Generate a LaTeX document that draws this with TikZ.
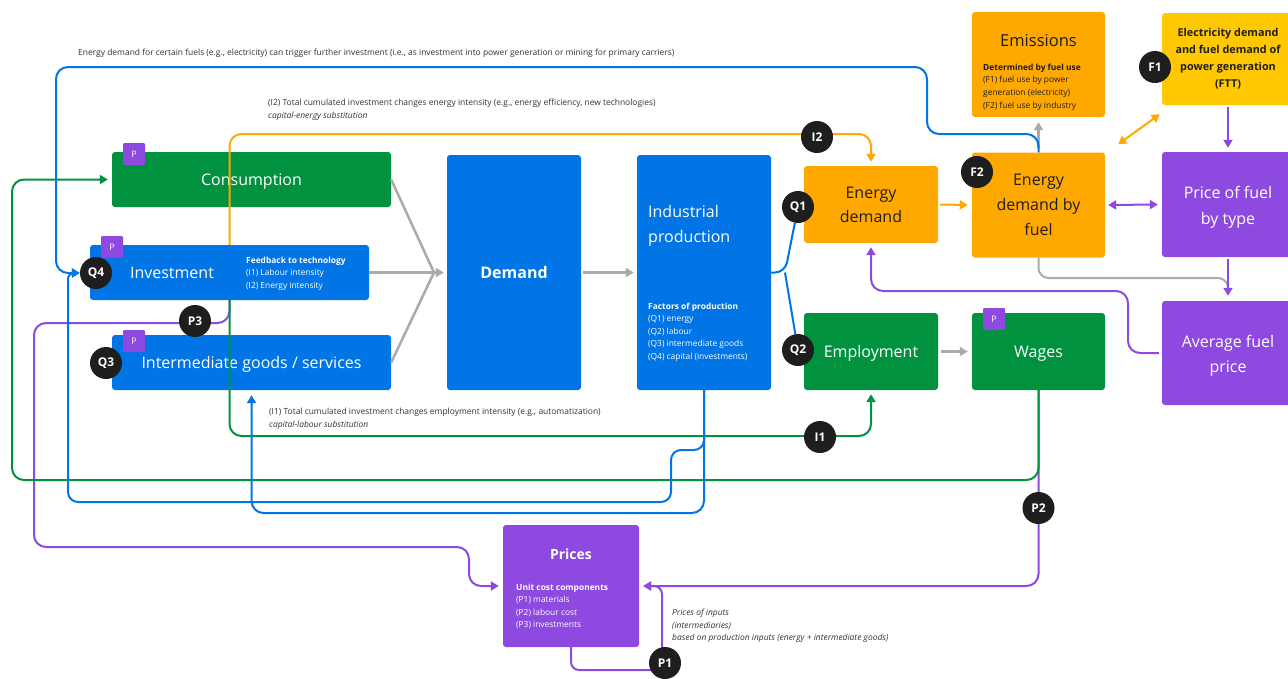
\documentclass[tikz,border=0pt]{standalone}
\usepackage{fontspec}
\setmainfont{Open Sans}
\usetikzlibrary{arrows.meta}
\definecolor{cgreen}{HTML}{00923F}
\definecolor{cblue}{HTML}{0174E6}
\definecolor{corange}{HTML}{FFA800}
\definecolor{cyellow}{HTML}{FFC800}
\definecolor{cpurple}{HTML}{8E49E0}
\definecolor{cdark}{HTML}{1E1E1E}
\definecolor{cgray}{HTML}{AAAAAA}
\definecolor{ctext}{HTML}{333333}
\pgfdeclarelayer{boxes}
\pgfdeclarelayer{lines}
\pgfsetlayers{boxes,lines,main}
\begin{document}
\begin{tikzpicture}[x=1pt,y=-1pt,
  boxbase/.style={draw=none, rounded corners=3pt, inner sep=0pt, align=center, font=\fontsize{16}{24}\selectfont},
  gbox/.style={boxbase, fill=cgreen, text=white},
  bbox/.style={boxbase, fill=cblue, text=white},
  obox/.style={boxbase, fill=corange, text=cdark},
  pbox/.style={boxbase, fill=cpurple, text=white},
  ybox/.style={boxbase, fill=cyellow, text=cdark},
  badge/.style={circle, fill=cdark, text=white, font=\bfseries\fontsize{12}{12}\selectfont, minimum size=32pt, inner sep=0pt},
  pbadge/.style={fill=cpurple, text=white, font=\fontsize{9}{9}\selectfont, minimum size=22pt, inner sep=0pt, rounded corners=1pt},
  smalltxt/.style={font=\fontsize{8.4}{12.6}\selectfont, align=left, inner sep=0pt, anchor=west},
  notetxt/.style={font=\fontsize{8.45}{12.6}\selectfont, text=ctext, align=left, inner sep=0pt, anchor=west},
  bigtxt/.style={font=\fontsize{16}{25}\selectfont, inner sep=0pt},
  conn/.style={line width=2pt, rounded corners=10pt},
  grayline/.style={draw=cgray, line width=2.5pt},
  blueline/.style={conn, draw=cblue},
  greenline/.style={conn, draw=cgreen},
  orangeline/.style={conn, draw=corange},
  purpleline/.style={conn, draw=cpurple},
  arr/.style={-{Triangle[length=8pt,width=9pt]}},
  darr/.style={{Triangle[length=8pt,width=9pt]}-{Triangle[length=8pt,width=9pt]}}
]
\useasboundingbox (0,0) rectangle (1288,678);

% badges (top layer)
\node[badge] (q4) at (96,273) {Q4};
\node[badge] (q3) at (106,363) {Q3};
\node[badge] (q1) at (798,207) {Q1};
\node[badge] (q2) at (798,350) {Q2};
\node[badge] (i2) at (817,137) {I2};
\node[badge] (i1) at (820,437) {I1};
\node[badge] (f2) at (977,172) {F2};
\node[badge] (f1) at (1155,67) {F1};
\node[badge] (p3) at (195,321) {P3};
\node[badge] (p2) at (1038.5,508) {P2};
\node[badge] (p1) at (665,663) {P1};
\node[pbadge] (pc) at (134,154) {P};
\node[pbadge] (pi) at (112,247) {P};
\node[pbadge] (pg) at (134,341) {P};
\node[pbadge] (pw) at (994,319) {P};

\begin{pgfonlayer}{boxes}
\fill[white] (0,0) rectangle (1288,678);
\clip (0,0) rectangle (1288,678);
\node[gbox, minimum width=279pt, minimum height=55pt, text depth=0pt] (cons) at (251.5,179.5) {Consumption};
\node[bbox, minimum width=279pt, minimum height=55pt] (inv) at (229.5,272.5) {};
\node[bbox, minimum width=279pt, minimum height=55pt, text depth=0pt] (inter) at (251.5,362.5) {Intermediate goods / services};
\node[bbox, minimum width=134pt, minimum height=235pt, font=\bfseries\fontsize{16}{24}\selectfont] (dem) at (514,272.5) {Demand};
\node[bbox, minimum width=134pt, minimum height=235pt] (ind) at (704,272.5) {};
\node[obox, minimum width=134pt, minimum height=77pt] (ed) at (871,204.5) {Energy\\demand};
\node[gbox, minimum width=134pt, minimum height=77pt, text depth=0pt] (emp) at (871,351.5) {Employment};
\node[obox, minimum width=133pt, minimum height=105pt, font=\fontsize{16}{25}\selectfont] (edf) at (1038.5,205) {Energy\\demand by\\fuel};
\node[gbox, minimum width=133pt, minimum height=77pt, text depth=0pt] (wag) at (1038.5,351.5) {Wages};
\node[pbox, minimum width=132pt, minimum height=105pt] (pft) at (1228,204.5) {};
\node[pbox, minimum width=132pt, minimum height=104pt] (avg) at (1228,353) {};
\node[obox, minimum width=133pt, minimum height=105pt] (emis) at (1038.5,64.5) {};
\node[ybox, minimum width=132pt, minimum height=92pt, font=\bfseries\fontsize{10.8}{17}\selectfont] (ftt) at (1228,59) {Electricity demand\\and fuel demand of\\power generation\\(FTT)};
\node[pbox, minimum width=136pt, minimum height=122pt] (prc) at (571,586) {};
% labels inside boxes
\node[font=\fontsize{16}{26}\selectfont, text=white, align=center, inner sep=0pt] (pftl) at (1228,207.5) {Price of fuel\\by type};
\node[font=\fontsize{16}{25}\selectfont, text=white, align=center, inner sep=0pt] (avgl) at (1228,356) {Average fuel\\price};
\node[bigtxt, text=white] (invl) at (172,273) {Investment};
\node[smalltxt, text=white] (invfb) at (246,273.5) {\textbf{Feedback to technology}\\(I1) Labour intensity\\(I2) Energy intensity};
\node[bigtxt, text=white, anchor=west, align=left] (indl) at (648,225.5) {Industrial\\production};
\node[smalltxt, text=white] (indf) at (648,332) {\textbf{Factors of production}\\(Q1) energy\\(Q2) labour\\(Q3) intermediate goods\\(Q4) capital (investments)};
\node[font=\fontsize{16.5}{20}\selectfont, text=cdark, inner sep=0pt] (emisl) at (1038.5,41) {Emissions};
\node[smalltxt, text=cdark] (emisd) at (983,87) {\textbf{Determined by fuel use}\\(F1) fuel use by power\\generation (electricity)\\(F2) fuel use by industry};
\node[font=\bfseries\fontsize{14}{16}\selectfont, text=white, inner sep=0pt] (prcl) at (571,554) {Prices};
\node[smalltxt, text=white] (prcd) at (516,606.5) {\textbf{Unit cost components}\\(P1) materials\\(P2) labour cost\\(P3) investments};
% notes
\node[notetxt] (n1) at (78,53) {Energy demand for certain fuels (e.g., electricity) can trigger further investment (i.e., as investment into power generation or mining for primary carriers)};
\node[notetxt] (n2) at (268,109.5) {(I2) Total cumulated investment changes energy intensity (e.g., energy efficiency, new technologies)\\\textit{capital-energy substitution}};
\node[notetxt] (n3) at (269,419) {(I1) Total cumulated investment changes employment intensity (e.g., automatization)\\\textit{capital-labour substitution}};
\node[notetxt] (n4) at (672,626) {\textit{Prices of inputs}\\\textit{(intermediaries)}\\\textit{based on production inputs (energy + intermediate goods)}};
\end{pgfonlayer}

\begin{pgfonlayer}{lines}
% gray
\coordinate (dm) at (434,272.5);
\draw[grayline] (cons.east) -- (dm);
\draw[grayline] (inter.east) -- (dm);
\draw[grayline, arr] (inv.east) -- ([xshift=-3pt]dem.west);
\draw[grayline, arr] ([xshift=2pt]dem.east) -- ([xshift=-3pt]ind.west);
\draw[grayline, arr] ([xshift=3pt]emp.east) -- ([xshift=-4pt]wag.west);
\draw[grayline, arr] ([yshift=4pt]edf.north) -- ([yshift=-5pt]emis.south);
\draw[grayline, line width=2pt, rounded corners=10pt] (edf.south) -- (1038.5,278) -- (1228,278) -- (1228,292);
% orange
\draw[orangeline, arr] ([xshift=2pt]ed.east) -- ([xshift=-4pt]edf.west);
\draw[orangeline, darr, rounded corners=0pt] ([shift={(13,-8)}]edf.north east) -- ([shift={(-2,9)}]ftt.south west);
\draw[orangeline, arr, rounded corners=12pt] (inv.north) -- (229.5,134) -- (871,134) -- ([yshift=4pt]ed.north);
% purple
\draw[purpleline, darr] ([xshift=3pt]edf.east) -- ([xshift=-4pt]pft.west);
\draw[purpleline, arr] ([yshift=-2pt]ftt.south) -- ([yshift=4pt]pft.north);
\draw[purpleline, arr] ([yshift=-2pt]pft.south) -- ([yshift=5pt]avg.north);
\draw[purpleline, arr, rounded corners=12pt] ([xshift=-3pt]avg.west) -- (1128,353) -- (1128,291) -- (871,291) -- ([yshift=-4pt]ed.south);
\draw[purpleline, arr, rounded corners=12pt] (inv.south) -- (229.5,323) -- (34,323) -- (34,547) -- (469,547) -- (469,586) -- ([xshift=-4pt]prc.west);
\draw[purpleline, arr, rounded corners=12pt] (wag.south) -- (1038.5,586) -- ([xshift=4pt]prc.east);
\draw[purpleline, arr, rounded corners=8pt] (prc.south) -- (571,670) -- (662,670) -- (662,586) -- ([xshift=4pt]prc.east);
% green
\draw[greenline, arr, rounded corners=12pt] (inv.south) -- (229.5,436) -- (871,436) -- ([yshift=-4pt]emp.south);
\draw[greenline, arr, rounded corners=12pt] (wag.south) -- (1038.5,480) -- (12,480) -- (12,179.5) -- ([xshift=-4pt]cons.west);
% blue
\draw[blueline] (ind.east) -- (785,272.5) -- (q1);
\draw[blueline] (785,272.5) -- (q2);
\draw[blueline, arr, rounded corners=12pt] (edf.north) -- (1038.5,134) -- (927,134) -- (927,67) -- (56,67) -- (56,273) -- (q4.west);
\draw[blueline, arr] (ind.south) -- (704,450) -- (671,450) -- (671,502) -- (68,502) [rounded corners=6pt] -- (68,273) -- (q4.west);
\draw[blueline, arr, rounded corners=12pt] (ind.south) -- (704,513) -- (251.5,513) -- ([yshift=-5pt]inter.south);
\end{pgfonlayer}
\end{tikzpicture}
\end{document}
